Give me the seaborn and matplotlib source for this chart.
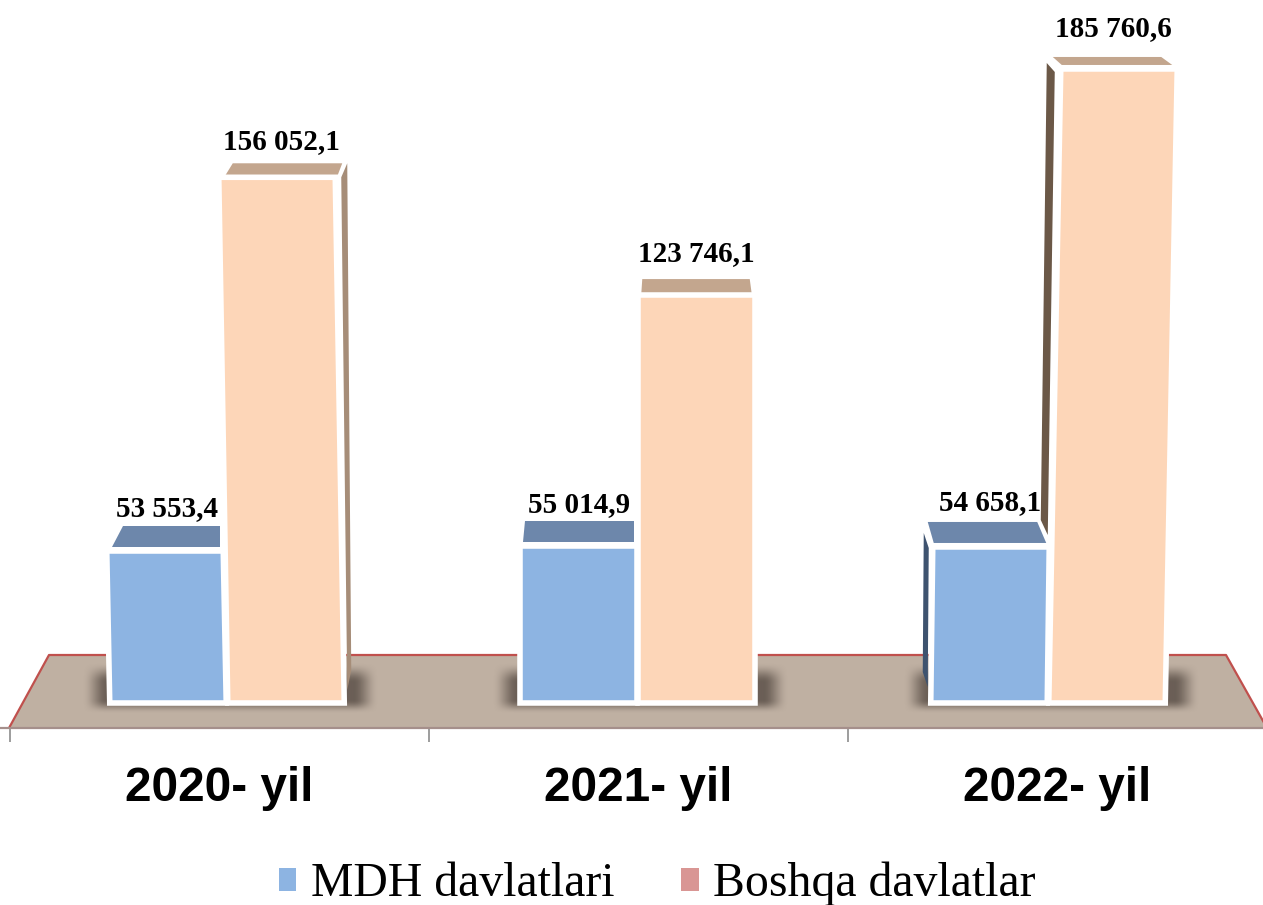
# eksport chart: bars from seaborn, fake 3d faces added around them
import numpy as np
import pandas as pd
import matplotlib
matplotlib.use("Agg")
import matplotlib.pyplot as plt
import seaborn as sns
from matplotlib.patches import Patch, Polygon
from matplotlib.transforms import Affine2D

years = ["2020- yil", "2021- yil", "2022- yil"]
mdh = [53553.4, 55014.9, 54658.1]
boshqa = [156052.1, 123746.1, 185760.6]
series_names = ["MDH davlatlari", "Boshqa davlatlar"]

W, H = 1263, 905
FLOOR_PX = 703
AXIS_PX = 728
Y_FLOOR = 11864
Y_TOP = 204678
STEP_PX = 410.5
FIRST_PX = 227
BLUE, ORANGE, PINK = "#8DB4E2", "#FDD6B8", "#D99694"
BLUE_TOP, ORANGE_TOP = "#6D87AB", "#C3A68E"

df = pd.DataFrame({
    "yil": years * 2,
    "qiymat": mdh + boshqa,
    "guruh": [series_names[0]] * 3 + [series_names[1]] * 3,
})

sns.set_theme(style="white")
plt.rcParams["font.family"] = ["Liberation Serif", "DejaVu Sans"]

fig = plt.figure(figsize=(W / 100, H / 100), dpi=100, facecolor="white")

# background axes in image pixels: floor, shadows, ticks
bg = fig.add_axes([0, (H - AXIS_PX) / H, 1, AXIS_PX / H], zorder=1)
bg.set_xlim(0, W)
bg.set_ylim(AXIS_PX, 0)
bg.patch.set_visible(False)
for name in ["top", "left", "right"]:
    bg.spines[name].set_visible(False)
bg.spines["bottom"].set_color("#A58F8B")
bg.spines["bottom"].set_linewidth(1.6)
bg.set_yticks([])

floor = [(49, 655), (1226, 655), (1267, AXIS_PX), (9, AXIS_PX)]
bg.add_patch(Polygon(floor, closed=True, fc="#BFB0A2", ec="none", zorder=1))
bg.plot([9, 49, 1226, 1267], [AXIS_PX, 655, 655, AXIS_PX], color="#C0504D", lw=1.6, zorder=2)

tick_edges = [10 + 419 * i for i in range(4)]
tick_mids = [219.5 + 419 * i for i in range(3)]
bg.set_xticks(tick_edges)
bg.set_xticklabels([])
bg.tick_params(axis="x", which="major", length=10, width=1.2, color="#8C8C8C", bottom=True)
bg.set_xticks(tick_mids, minor=True)
bg.set_xticklabels(years, minor=True, family="Liberation Sans", fontsize=34.4,
                   fontweight="bold", color="black")
bg.tick_params(axis="x", which="minor", length=0, pad=27.5)

# bars
ax = fig.add_axes([0, (H - FLOOR_PX) / H, 1, FLOOR_PX / H], zorder=2)
sns.barplot(data=df, x="yil", y="qiymat", hue="guruh", palette=[BLUE, ORANGE],
            width=0.575, gap=0.013, saturation=1, legend=False, ax=ax)
ax.set_xlim(-FIRST_PX / STEP_PX, (W - FIRST_PX) / STEP_PX)
ax.set_ylim(Y_FLOOR, Y_TOP)
ax.axis("off")

# how far each bar top leans sideways, px (blue x3, orange x3)
leans = [-3, 0, 2, -9, 0, 12]
# top face: front y offset, depth, front left/right dx, back left/right dx
top_faces = [
    (-4, 21, 5, -3, 16, -3),
    (-4, 21, 3, -3, 5, -3),
    (-4, 21, 1, -3, -5, -12),
    (-1, 13, 6, 2, 14, 7),
    (-1, 15, 3, -3, 4, -5),
    (-4, 8, 1, -5, -8, -16),
]
label_dx = [2, 1, -1, 4, 0, -6]
label_dy = [42, 41, 44, 36, 42, 40]
values = mdh + boshqa

y0_disp = ax.transData.transform((0, Y_FLOOR))[1]
corners = []
for i, bar in enumerate(ax.patches):
    top = bar.get_y() + bar.get_height()
    bar.set_y(Y_FLOOR)
    bar.set_height(top - Y_FLOOR)
    bar.set_edgecolor("white")
    bar.set_linewidth(4)
    bar.set_clip_on(False)
    bar.set_joinstyle("miter")
    bar.set_zorder(3 + (i >= 3))

    left = ax.transData.transform((bar.get_x(), Y_FLOOR))[0]
    right = ax.transData.transform((bar.get_x() + bar.get_width(), Y_FLOOR))[0]
    top_disp = ax.transData.transform((0, top))[1]
    k = leans[i] / (top_disp - y0_disp)
    bar.set_transform(ax.transData + Affine2D().translate(0, -y0_disp)
                      .skew(np.arctan(k), 0).translate(0, y0_disp))

    T = H - top_disp
    TL, TR = left + leans[i], right + leans[i]
    corners.append((TL, TR, left, right, T))

    fy, depth, fl, fr, bl, br = top_faces[i]
    pts = [(TL + fl, T + fy), (TR + fr, T + fy), (TR + br, T + fy - depth), (TL + bl, T + fy - depth)]
    bg.add_patch(Polygon(pts, closed=True, fc=BLUE_TOP if i < 3 else ORANGE_TOP, ec="none", zorder=4))

    # value label
    cx = bar.get_x() + bar.get_width() / 2
    txt = f"{values[i]:,.1f}".replace(",", " ").replace(".", ",")
    ax.annotate(txt, xy=(cx, top), xytext=((leans[i] + label_dx[i]) * 0.72, label_dy[i] * 0.72),
                textcoords="offset points", ha="center", va="center", fontsize=21,
                fontweight="bold", color="black", zorder=10, annotation_clip=False)

# side faces
TL, TR, BL, BR, T = corners[3]
bg.add_patch(Polygon([(TR + 6, T), (TR + 12, T - 14), (BR + 7, FLOOR_PX - 33), (BR + 3, FLOOR_PX - 13)],
                     closed=True, fc="#A68D78", ec="none", zorder=4))
TL, TR, BL, BR, T = corners[2]
bg.add_patch(Polygon([(TL - 9, T - 14), (TL - 4, T + 1), (BL - 3, FLOOR_PX - 16), (BL - 8, FLOOR_PX - 31)],
                     closed=True, fc="#3E536F", ec="none", zorder=4))
TL, TR, BL, BR, T = corners[5]
bg.add_patch(Polygon([(TL - 14, T - 6), (TL - 6, T + 3), (BL - 1, FLOOR_PX - 168), (BL - 8, FLOOR_PX - 183)],
                     closed=True, fc="#6B5847", ec="none", zorder=4))

# soft shadows below each pair of bars
def ramp(t):
    t = np.clip(t, 0, 1)
    return t * t * (3 - 2 * t)

xx, yy = np.meshgrid(np.arange(330), np.arange(52))
alpha = ramp(xx / 28) * ramp((329 - xx) / 28) * ramp(yy / 20) * ramp((51 - yy) / 14) * 0.85
shadow = np.zeros(alpha.shape + (4,))
shadow[..., :3] = np.array([0x5C, 0x50, 0x48]) / 255
shadow[..., 3] = alpha
for i in range(3):
    x0 = corners[i][2] - 28
    x1 = corners[i + 3][3] + 34
    bg.imshow(shadow, extent=(x0, x1, 714, 662), aspect="auto", zorder=3, interpolation="bilinear")
bg.set_xlim(0, W)
bg.set_ylim(AXIS_PX, 0)

# legend
handles = [Patch(fc=BLUE, ec="none"), Patch(fc=PINK, ec="none")]
fig.legend(handles, series_names, loc="center", bbox_to_anchor=(657 / W, 1 - 884 / H),
           ncols=2, frameon=False, fontsize=34.4, labelcolor="black", handlelength=0.37,
           handleheight=0.37, handletextpad=0.3, columnspacing=1.4, borderpad=0, borderaxespad=0)

fig.savefig("out.png", dpi=100)
